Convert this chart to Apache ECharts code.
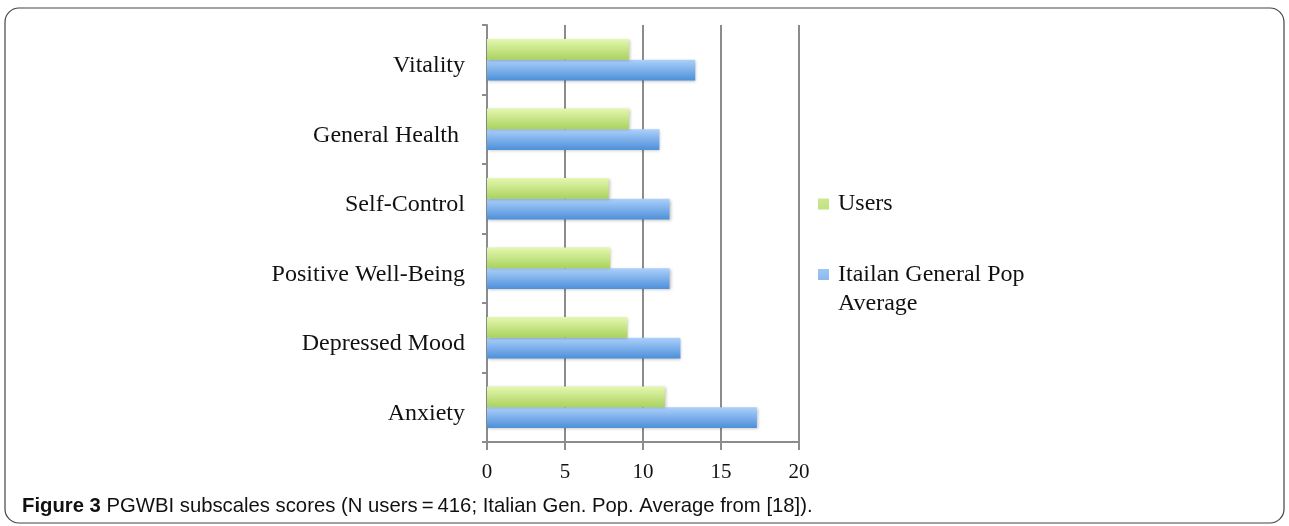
<!DOCTYPE html>
<html>
<head>
<meta charset="utf-8">
<script src="https://cdn.jsdelivr.net/npm/echarts@6/dist/echarts.min.js"></script>
<style>
  html, body { margin: 0; padding: 0; background: #fff; }
  #chart { width: 1289px; height: 526px; }
</style>
</head>
<body>
<div id="chart"></div>
<script>
// categories, bottom to top as echarts draws them
var categories = ['Anxiety', 'Depressed Mood', 'Positive Well-Being', 'Self-Control', 'General Health ', 'Vitality']
var usersData = [11.4, 9.0, 7.9, 7.8, 9.1, 9.1]
var italianData = [17.3, 12.4, 11.7, 11.7, 11.05, 13.35]
var xTicks = [0, 5, 10, 15, 20]
var usersName = 'Users'
var italianName = 'Itailan General Pop\nAverage'

var chart = echarts.init(document.getElementById('chart'))

function grad(top, bottom) {
  return new echarts.graphic.LinearGradient(0, 0, 0, 1, [
    { offset: 0, color: top },
    { offset: 1, color: bottom }
  ])
}

chart.setOption({
  animation: false,
  grid: {
    left: 487,
    top: 25,
    width: 312,
    height: 417,
    containLabel: false
  },
  legend: {
    orient: 'vertical',
    left: 813,
    top: 170,
    itemWidth: 11,
    itemHeight: 58,
    itemGap: 27,
    textStyle: {
      fontFamily: 'Liberation Serif',
      fontSize: 24,
      color: '#111',
      lineHeight: 29,
      padding: [0, 0, 0, 4]
    },
    // icon box is 11x58: the square sits where the (first) text line is
    data: [
      { name: usersName, icon: 'path://M0,0M0,23.5h11v11h-11zM11,58' },
      { name: italianName, icon: 'path://M0,0M0,9h11v11h-11zM11,58' }
    ]
  },
  xAxis: {
    type: 'value',
    min: 0,
    max: 20,
    interval: 5,
    axisLine: { show: true, lineStyle: { color: '#8c8c8c', width: 2 } },
    axisTick: { show: true, length: 8, lineStyle: { color: '#8c8c8c', width: 2 } },
    splitLine: { show: true, lineStyle: { color: '#8c8c8c', width: 2 } },
    axisLabel: {
      margin: 20,
      fontFamily: 'Liberation Serif',
      fontSize: 21,
      color: '#111',
      formatter: function (v) { return xTicks.indexOf(v) >= 0 ? String(v) : '' }
    }
  },
  yAxis: {
    type: 'category',
    data: categories,
    axisLine: { show: true, lineStyle: { color: '#8c8c8c', width: 2 } },
    axisTick: { show: true, length: 5, lineStyle: { color: '#8c8c8c', width: 2 } },
    axisLabel: {
      margin: 22,
      formatter: '{a|{value}}',
      rich: {
        a: {
          padding: [12, 0, 0, 0],
          fontFamily: 'Liberation Serif',
          fontSize: 24,
          color: '#111'
        }
      }
    }
  },
  series: [
    {
      name: usersName,
      type: 'bar',
      data: usersData,
      barGap: '0%',
      barCategoryGap: '40%',
      z: 3,
      itemStyle: {
        color: grad('#e4f8b0', '#a9d25e'),
        shadowColor: 'rgba(0,0,0,0.25)',
        shadowBlur: 3,
        shadowOffsetX: 1,
        shadowOffsetY: 1
      }
    },
    {
      name: italianName,
      type: 'bar',
      data: italianData,
      z: 2,
      itemStyle: {
        color: grad('#acd0fb', '#4c8fd9'),
        shadowColor: 'rgba(0,0,0,0.25)',
        shadowBlur: 3,
        shadowOffsetX: 1,
        shadowOffsetY: 1
      }
    }
  ],
  graphic: [
    {
      type: 'rect',
      shape: { x: 5, y: 8, width: 1279, height: 515, r: 14 },
      style: { fill: 'none', stroke: '#444', lineWidth: 1.2 },
      z: -1
    },
    {
      type: 'text',
      left: 22,
      top: 496,
      style: {
        text: '{b|Figure 3} PGWBI subscales scores (N users\u2009=\u2009416; Italian Gen. Pop. Average from [18]).',
        fontFamily: 'Liberation Sans',
        fontSize: 20.3,
        fill: '#111',
        rich: {
          b: { fontWeight: 'bold', fontSize: 20.3, fontFamily: 'Liberation Sans', fill: '#111' }
        }
      }
    }
  ]
})
</script>
</body>
</html>
